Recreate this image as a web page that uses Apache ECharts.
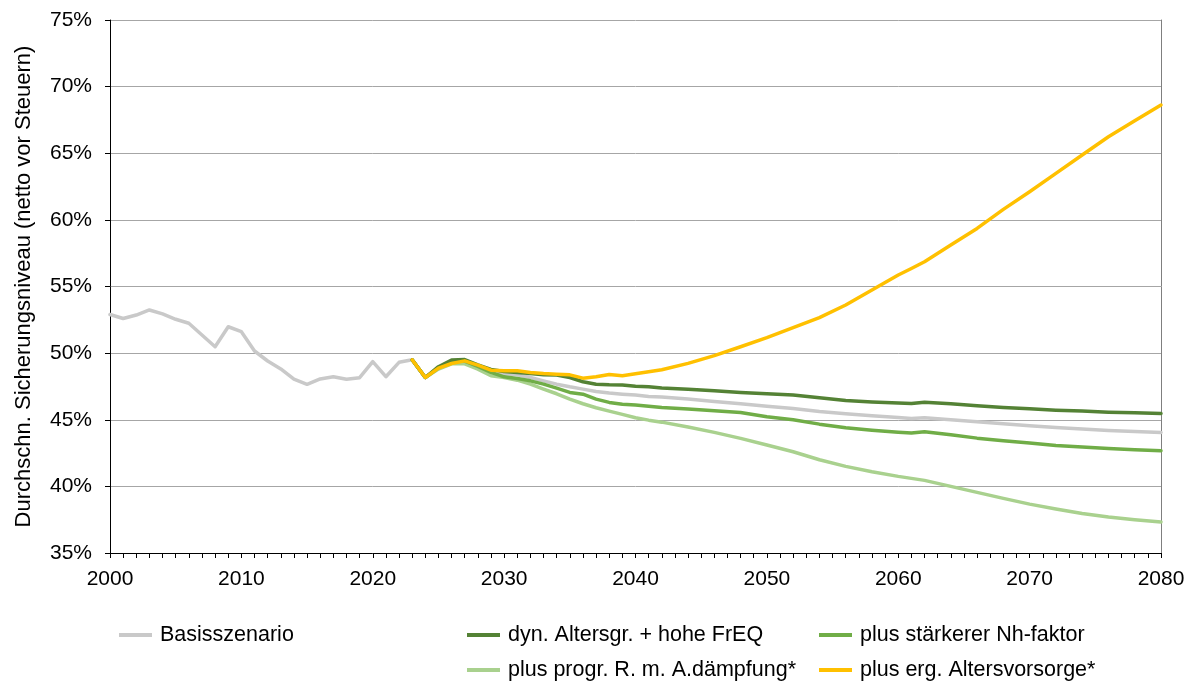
<!DOCTYPE html>
<html>
<head>
<meta charset="utf-8">
<script src="https://cdn.jsdelivr.net/npm/echarts@6/dist/echarts.min.js"></script>
<style>
html,body{margin:0;padding:0;background:#fff;}
#chart{width:1193px;height:684px;}
</style>
</head>
<body>
<div id="chart"></div>
<script>
// Historical years (Basisszenario only)
const histYears = [2000,2001,2002,2003,2004,2005,2006,2007,2008,2009,2010,2011,2012,2013,2014,2015,2016,2017,2018,2019,2020,2021,2022];
const histBasis = [52.9,52.6,52.86,53.24,52.94,52.54,52.24,51.36,50.48,51.98,51.61,50.16,49.41,48.81,48.04,47.66,48.06,48.23,48.04,48.16,49.36,48.23,49.31];

// Projection years (shared by all series)
const projYears = [2023,2024,2025,2026,2027,2028,2029,2030,2031,2032,2033,2034,2035,2036,2037,2038,2039,2040,2041,
  2042,2044,2046,2048,2050,2052,2054,2056,2058,2060,2061,2062,2064,2066,2068,2070,2072,2074,2076,2078,2080];

const projBasis = [49.5,48.17,48.9,49.4,49.45,49.0,48.6,48.47,48.37,48.17,47.92,47.67,47.47,47.3,47.12,47.0,46.92,46.85,46.75,
  46.7,46.55,46.37,46.2,46.02,45.85,45.62,45.45,45.3,45.17,45.1,45.15,45.0,44.85,44.7,44.55,44.42,44.3,44.2,44.12,44.05];

const dynAlter = [49.5,48.17,48.98,49.48,49.52,49.12,48.78,48.62,48.55,48.47,48.37,48.35,48.17,47.85,47.67,47.62,47.6,47.52,47.47,
  47.38,47.28,47.17,47.05,46.95,46.85,46.65,46.45,46.33,46.25,46.22,46.32,46.2,46.05,45.92,45.82,45.72,45.65,45.57,45.52,45.47];

const nhFaktor = [49.5,48.17,48.9,49.4,49.4,49.0,48.55,48.22,48.1,47.92,47.67,47.37,47.05,46.92,46.55,46.3,46.17,46.1,46.02,
  45.92,45.8,45.67,45.55,45.22,45.0,44.67,44.4,44.22,44.07,44.0,44.1,43.87,43.62,43.42,43.25,43.07,42.95,42.85,42.75,42.67];

const progrDaempfung = [49.5,48.17,48.8,49.2,49.2,48.8,48.3,48.17,47.97,47.67,47.3,46.95,46.55,46.2,45.9,45.65,45.4,45.15,44.97,
  44.82,44.45,44.05,43.6,43.1,42.6,42.0,41.5,41.1,40.75,40.6,40.45,40.0,39.55,39.1,38.67,38.3,37.97,37.7,37.5,37.33];

const ergVorsorge = [49.5,48.17,48.88,49.22,49.42,49.1,48.72,48.67,48.67,48.55,48.47,48.42,48.37,48.12,48.22,48.4,48.3,48.45,48.6,
  48.75,49.23,49.81,50.48,51.16,51.91,52.66,53.61,54.74,55.86,56.35,56.86,58.11,59.36,60.79,62.11,63.49,64.87,66.24,67.44,68.62];

const seriesNames = ['Basisszenario','dyn. Altersgr. + hohe FrEQ','plus stärkerer Nh-faktor','plus progr. R. m. A.dämpfung*','plus erg. Altersvorsorge*'];
const seriesColors = ['#c9c9c9','#548235','#70ad47','#a9d18e','#ffc000'];
const yTicks = [35,40,45,50,55,60,65,70,75];
const xTicks = [2000,2010,2020,2030,2040,2050,2060,2070,2080];

const pair = (xs, ys) => xs.map((x, i) => [x, ys[i]]);
const basisData = pair(histYears, histBasis).concat(pair(projYears, projBasis));

const FONT = "'Liberation Sans', Arial, sans-serif";
const chart = echarts.init(document.getElementById('chart'), null, {renderer: 'canvas'});

function legendAt(name, left, top) {
  return {
    data: [name], left: left, top: top, padding: 0, orient: 'horizontal',
    icon: 'rect', itemWidth: 33, itemHeight: 4,
    textStyle: {fontFamily: FONT, fontSize: 21.5, color: '#000', padding: [0,0,0,3]}
  };
}

const lineSeries = (idx, data, z) => ({
  name: seriesNames[idx], type: 'line', data: data, symbol: 'none', smooth: false,
  lineStyle: {color: seriesColors[idx], width: 3.5, join: 'round', cap: 'round'},
  itemStyle: {color: seriesColors[idx]}, z: z, animation: false
});

chart.setOption({
  animation: false,
  backgroundColor: '#fff',
  textStyle: {fontFamily: FONT},
  grid: {left: 110, right: 32, top: 20, bottom: 131, containLabel: false},
  legend: [
    legendAt(seriesNames[0], 119, 624),
    legendAt(seriesNames[1], 467, 624),
    legendAt(seriesNames[2], 819, 624),
    legendAt(seriesNames[3], 467, 659),
    legendAt(seriesNames[4], 819, 659)
  ],
  xAxis: {
    type: 'value', min: xTicks[0], max: xTicks[xTicks.length - 1], interval: 10,
    axisLine: {show: true, onZero: false, lineStyle: {color: '#000', width: 1}},
    axisTick: {show: true, inside: false, length: 5, lineStyle: {color: '#000'}},
    minorTick: {show: true, splitNumber: 10, length: 5, lineStyle: {color: '#000'}},
    splitLine: {show: false},
    axisLabel: {fontFamily: FONT, fontSize: 21, color: '#000', margin: 16, formatter: v => String(v)}
  },
  yAxis: [{
    type: 'value', min: yTicks[0], max: yTicks[yTicks.length - 1], interval: 5,
    name: 'Durchschn. Sicherungsniveau (netto vor Steuern)',
    nameLocation: 'middle', nameGap: 75, nameRotate: 90,
    nameTextStyle: {fontFamily: FONT, fontSize: 22, color: '#000'},
    axisLine: {show: true, lineStyle: {color: '#000', width: 1}},
    axisTick: {show: true, inside: false, length: 5, lineStyle: {color: '#000'}},
    splitLine: {show: true, lineStyle: {color: '#a6a6a6', width: 1}},
    axisLabel: {fontFamily: FONT, fontSize: 21, color: '#000', margin: 18, formatter: '{value}%'}
  }, {
    type: 'value', position: 'right', min: yTicks[0], max: yTicks[yTicks.length - 1], interval: 5,
    axisLine: {show: true, lineStyle: {color: '#7f7f7f', width: 1}},
    axisTick: {show: false}, axisLabel: {show: false}, splitLine: {show: false}
  }],
  series: [
    lineSeries(0, basisData, 2),
    lineSeries(3, pair(projYears, progrDaempfung), 3),
    lineSeries(2, pair(projYears, nhFaktor), 4),
    lineSeries(1, pair(projYears, dynAlter), 5),
    lineSeries(4, pair(projYears, ergVorsorge), 6)
  ]
});
</script>
</body>
</html>
